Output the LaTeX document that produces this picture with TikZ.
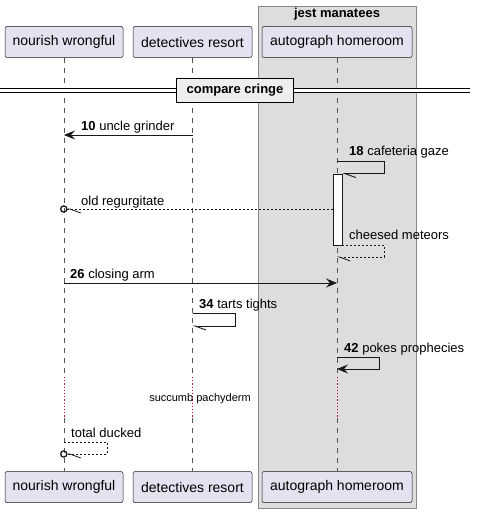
\documentclass[tikz,border=0pt]{standalone}
\usepackage{fontspec}
\setmainfont{Liberation Sans}
\usetikzlibrary{positioning}
\usetikzlibrary{arrows.meta}

\definecolor{partfill}{HTML}{E2E2F0}
\definecolor{partline}{HTML}{181818}
\definecolor{lifecol}{HTML}{555555}
\definecolor{groupfill}{HTML}{DDDDDD}
\definecolor{groupline}{HTML}{888888}
\definecolor{divfill}{HTML}{EEEEEE}
\definecolor{delaycol}{HTML}{C8004E}

\begin{document}
\begin{tikzpicture}[x=1pt, y=-1pt,
partnode/.style={rectangle, rounded corners=2pt, draw=partline, fill=partfill, line width=0.5pt, minimum height=31pt, inner sep=0pt, font=\fontsize{14}{16}\selectfont},
groupbox/.style={rectangle, draw=groupline, fill=groupfill, line width=0.9pt, inner sep=0pt},
divnode/.style={rectangle, draw=black, fill=divfill, line width=1.6pt, minimum width=117pt, minimum height=24pt, inner sep=0pt, font=\bfseries\fontsize{13}{15}\selectfont},
lifeline/.style={draw=lifecol, line width=0.6pt, dash pattern=on 5pt off 5pt},
delayline/.style={draw=delaycol, line width=1pt, dash pattern=on 1.2pt off 2pt},
actbox/.style={rectangle, draw=partline, fill=white, line width=0.8pt, minimum width=9pt, minimum height=71pt, inner sep=0pt},
msglabel/.style={anchor=base west, inner sep=0pt, font=\fontsize{13}{15}\selectfont},
msg/.style={draw=partline, line width=0.9pt, -{Stealth[length=11pt, width=9pt, inset=4pt]}},
halfmsg/.style={draw=partline, line width=0.9pt, -{Straight Barb[harpoon, length=11pt, width=8pt]}},
retmsg/.style={draw=partline, line width=0.8pt, dash pattern=on 2pt off 2pt},
circtip/.style={-{Straight Barb[harpoon, length=11pt, width=8pt] Circle[open, length=7.5pt, line width=1.3pt]}},
]
\useasboundingbox (0,0) rectangle (477,513);

%Group
\node[groupbox, minimum width=158pt, minimum height=502pt] (jm) at (337,257) {};
\node[anchor=base, inner sep=0pt, font=\bfseries\fontsize{13}{15}\selectfont] (jmtitle) at (337,18) {jest manatees};

%Nodes
\node[partnode, minimum width=118pt] (nw)  at (64,42)    {nourish wrongful};
\node[partnode, minimum width=119pt] (dr)  at (192.5,42) {detectives resort};
\node[partnode, minimum width=150pt] (ah)  at (337,42)   {autograph homeroom};
\node[partnode, minimum width=118pt] (nwb) at (64,487)    {nourish wrongful};
\node[partnode, minimum width=119pt] (drb) at (192.5,487) {detectives resort};
\node[partnode, minimum width=150pt] (ahb) at (337,487)   {autograph homeroom};

%Heights
\coordinate (delaytop) at (0,377);
\coordinate (delaybot) at (0,418);
\coordinate (m10) at (0,135);
\coordinate (m18) at (0,161);
\coordinate (mold) at (0,209);
\coordinate (mcm) at (0,257);
\coordinate (m26) at (0,283);
\coordinate (m34) at (0,313);
\coordinate (m42) at (0,357);
\coordinate (mtd) at (0,442);

%Lifelines
\draw[lifeline] (nw.south) -- (nw.south |- delaytop);
\draw[lifeline] (dr.south) -- (dr.south |- delaytop);
\draw[lifeline] (ah.south) -- (ah.south |- delaytop);
\draw[delayline] (nw.south |- delaytop) -- (nw.south |- delaybot);
\draw[delayline] (dr.south |- delaytop) -- (dr.south |- delaybot);
\draw[delayline] (ah.south |- delaytop) -- (ah.south |- delaybot);
\draw[lifeline] (nw.south |- delaybot) -- (nwb.north);
\draw[lifeline] (dr.south |- delaybot) -- (drb.north);
\draw[lifeline] (ah.south |- delaybot) -- (ahb.north);

%Divider
\coordinate (divl) at (0,90.5);
\coordinate (divr) at (470,90.5);
\draw[double, double distance=2.6pt, line width=0.8pt] (divl) -- (divr);
\node[divnode] (div) at (235,90.5) {compare cringe};

%Activation
\node[actbox] (act) at (337.5,209.5) {};

%Lines
\draw[msg] (dr.south |- m10) -- (nw.south |- m10);
\node[msglabel] (l10) at (81,131) {\textbf{10} uncle grinder};

\draw[halfmsg] (ah.south |- m18) -- ++(47,0) |- (act.north east);
\node[msglabel] (l18) at (349,156) {\textbf{18} cafeteria gaze};

\draw[retmsg, circtip] (act.west |- mold) -- ([xshift=-4pt]nw.south |- mold);
\node[msglabel] (lold) at (81,205) {old regurgitate};

\draw[retmsg, -{Straight Barb[harpoon, length=11pt, width=8pt]}] (act.south east) -- ++(42,0) |- (ah.south |- mcm);
\node[msglabel] (lcm) at (349,239) {cheesed meteors};

\draw[msg] (nw.south |- m26) -- (ah.south |- m26);
\node[msglabel] (l26) at (70,278) {\textbf{26} closing arm};

\draw[halfmsg] (dr.south |- m34) -- ++(43,0) -- ++(0,13) -- ++(-43,0);
\node[msglabel] (l34) at (199,308) {\textbf{34} tarts tights};

\draw[msg] (ah.south |- m42) -- ++(42,0) -- ++(0,12) -- ++(-42,0);
\node[msglabel] (l42) at (344,352) {\textbf{42} pokes prophecies};

\node[inner sep=0pt, font=\fontsize{11}{13}\selectfont] (delaytxt) at (200,399) {succumb pachyderm};

\draw[retmsg, circtip] (nw.south |- mtd) -- ++(43,0) -- ++(0,12) -- ++(-47,0);
\node[msglabel] (ltd) at (71,437) {total ducked};
\end{tikzpicture}
\end{document}
